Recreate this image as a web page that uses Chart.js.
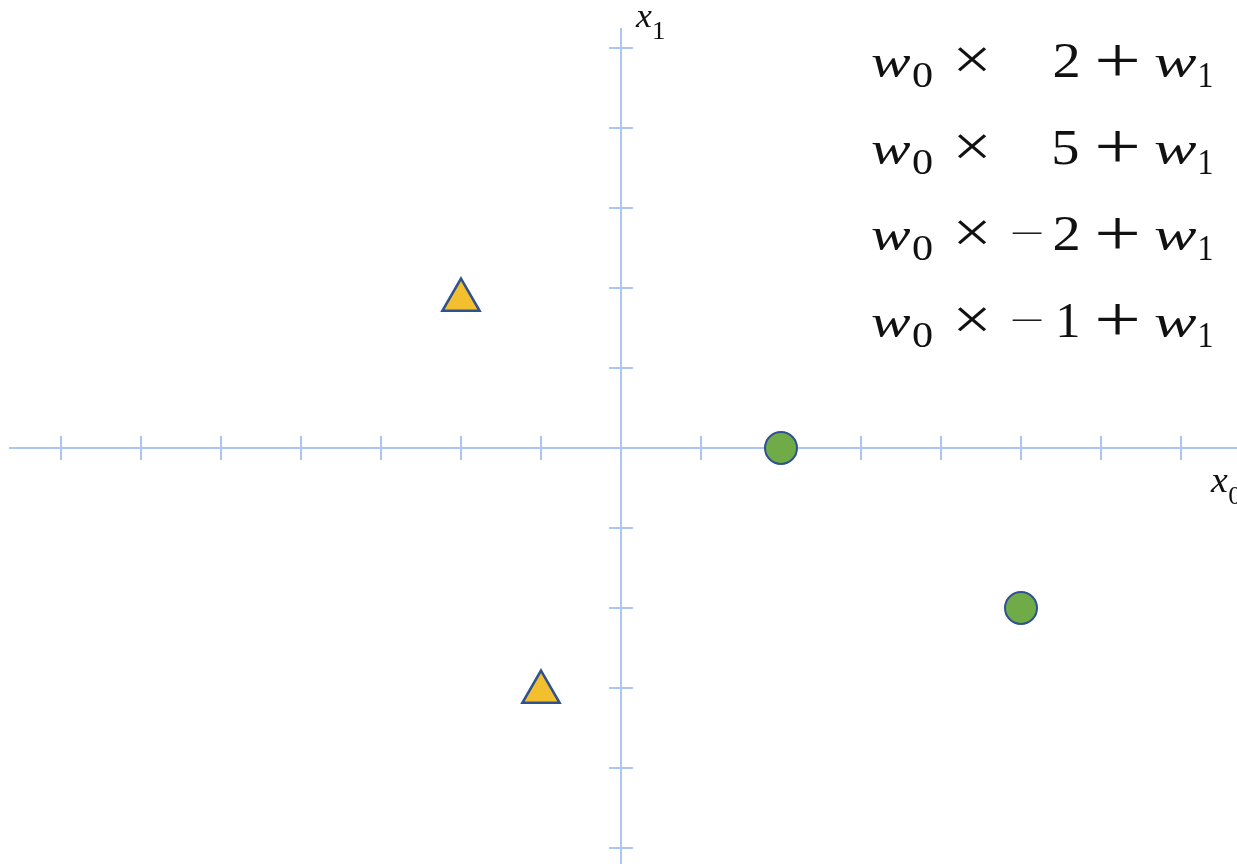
<!DOCTYPE html>
<html>
<head>
<meta charset="utf-8">
<title>x0 / x1 plane</title>
<script src="https://cdn.jsdelivr.net/npm/chart.js@4.4.1/dist/chart.umd.min.js"></script>
<style>
    html, body { margin: 0; padding: 0; background: #fff; }
    #wrap { width: 1237px; height: 864px; position: relative; }
</style>
</head>
<body>
<div id="wrap"><canvas id="plane" width="1237" height="864"></canvas></div>
<script>
// sample points: x0 doubles as the multiplier in the w0 × x0 + w1 lines
const pointX0 = [2, 5, -2, -1];
const pointX1 = [0, -2, 1.85, -3.05];
const pointClass = ['circle', 'circle', 'triangle', 'triangle'];

// axis ticks (unit spacing, origin skipped)
const x0Ticks = [-7, -6, -5, -4, -3, -2, -1, 1, 2, 3, 4, 5, 6, 7];
const x1Ticks = [-5, -4, -3, -2, -1, 1, 2, 3, 4, 5];

const axisColor = '#abc6f5';
const inkColor = '#111111';

const circlePts = [], trianglePts = [];
pointX0.forEach((x, i) => {
    const p = { x: x, y: pointX1[i] };
    if (pointClass[i] === 'circle') circlePts.push(p); else trianglePts.push(p);
});

// draw a glyph so its ink fills the given box exactly
function drawInBox(ctx, text, font, left, top, right, bottom) {
    ctx.save();
    ctx.font = font;
    ctx.textAlign = 'left';
    ctx.textBaseline = 'alphabetic';
    const m = ctx.measureText(text);
    const gw = m.actualBoundingBoxLeft + m.actualBoundingBoxRight;
    const gh = m.actualBoundingBoxAscent + m.actualBoundingBoxDescent;
    ctx.translate(left, top);
    ctx.scale((right - left) / gw, (bottom - top) / gh);
    ctx.fillText(text, m.actualBoundingBoxLeft, m.actualBoundingBoxAscent);
    ctx.restore();
}

const crossAxes = {
    id: 'crossAxes',
    beforeDatasetsDraw(chart) {
        const ctx = chart.ctx;
        const xs = chart.scales.x, ys = chart.scales.y;
        const ox = xs.getPixelForValue(0), oy = ys.getPixelForValue(0);
        const tick = 12;
        ctx.save();
        ctx.strokeStyle = axisColor;
        ctx.lineWidth = 2;
        ctx.beginPath();
        ctx.moveTo(xs.getPixelForValue(-7.65), oy);
        ctx.lineTo(xs.getPixelForValue(xs.max), oy);
        ctx.moveTo(ox, ys.getPixelForValue(5.25));
        ctx.lineTo(ox, ys.getPixelForValue(ys.min));
        x0Ticks.forEach(v => {
            const px = xs.getPixelForValue(v);
            ctx.moveTo(px, oy - tick);
            ctx.lineTo(px, oy + tick);
        });
        x1Ticks.forEach(v => {
            const py = ys.getPixelForValue(v);
            ctx.moveTo(ox - tick, py);
            ctx.lineTo(ox + tick, py);
        });
        ctx.stroke();
        ctx.restore();
    },
    afterDraw(chart) {
        const ctx = chart.ctx;
        ctx.save();
        ctx.fillStyle = inkColor;
        const ital = 'italic 40px "Liberation Serif"';
        const roman = '40px "Liberation Serif"';
        const sym = '60px "Liberation Serif"';

        // axis names
        drawInBox(ctx, 'x', ital, 635, 11, 652, 27);
        drawInBox(ctx, '1', roman, 654, 23, 664, 39);
        drawInBox(ctx, 'x', ital, 1210, 475, 1228, 492);
        drawInBox(ctx, '0', roman, 1229, 487, 1241, 504);

        // one line per sample: w0 × x0 + w1
        pointX0.forEach((v, r) => {
            const dy = 5 + r * 86.5;
            drawInBox(ctx, 'w', ital, 871, 50 + dy, 911, 72 + dy);
            drawInBox(ctx, '0', roman, 913, 59 + dy, 932, 82 + dy);
            drawInBox(ctx, '×', sym, 957, 42 + dy, 987, 67 + dy);
            const digit = String(Math.abs(v));
            const dw = digit === '1' ? 19 : 24;
            drawInBox(ctx, digit, roman, 1078 - dw, 39 + dy, 1078, 72 + dy);
            if (v < 0) drawInBox(ctx, '−', sym, 1012, 54 + dy, 1042, 56 + dy);
            drawInBox(ctx, '+', sym, 1097, 39 + dy, 1137, 71 + dy);
            drawInBox(ctx, 'w', ital, 1154, 50 + dy, 1197, 72 + dy);
            drawInBox(ctx, '1', roman, 1200, 59 + dy, 1212, 82 + dy);
        });
        ctx.restore();
    }
};

new Chart(document.getElementById('plane'), {
    type: 'scatter',
    data: {
        datasets: [
            {
                label: 'circle',
                data: circlePts,
                pointStyle: 'circle',
                pointRadius: 16,
                pointHoverRadius: 16,
                borderWidth: 2,
                backgroundColor: '#6fac47',
                borderColor: '#2f528f'
            },
            {
                label: 'triangle',
                data: trianglePts,
                pointStyle: 'triangle',
                pointRadius: 21.5,
                pointHoverRadius: 21.5,
                borderWidth: 2.5,
                backgroundColor: '#f2c02f',
                borderColor: '#2f528f'
            }
        ]
    },
    options: {
        responsive: false,
        animation: false,
        devicePixelRatio: 1,
        layout: { padding: 0, autoPadding: false },
        clip: false,
        scales: {
            x: { type: 'linear', min: -7.7625, max: 7.7, display: false },
            y: { type: 'linear', min: -5.2, max: 5.6, display: false }
        },
        plugins: {
            legend: { display: false },
            tooltip: { enabled: false }
        }
    },
    plugins: [crossAxes]
});
</script>
</body>
</html>
